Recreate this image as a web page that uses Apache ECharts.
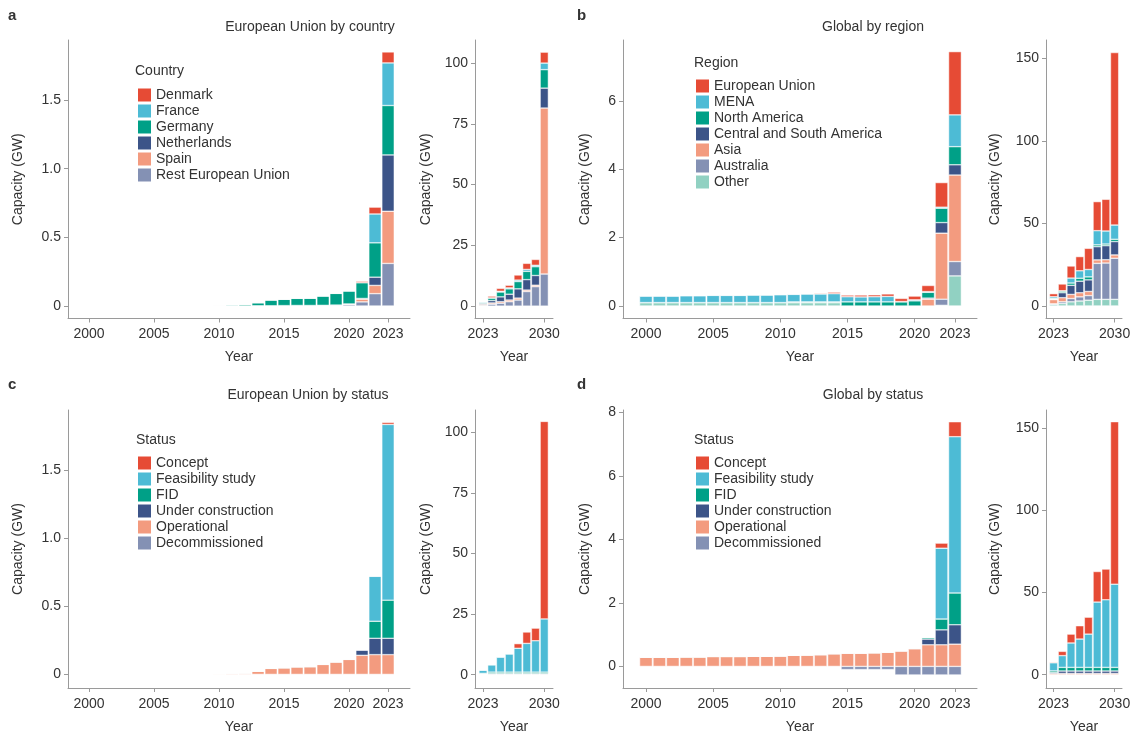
<!DOCTYPE html>
<html>
<head>
<meta charset="utf-8">
<title>Capacity by country, region and status</title>
<script src="https://cdn.jsdelivr.net/npm/echarts@6/dist/echarts.min.js"></script>
<style>
    html, body { margin: 0; padding: 0; background: #fff; }
    #capacityChart { width: 1134px; height: 735px; }
</style>
</head>
<body>
<div id="capacityChart"></div>
<script>
// years
var yearsHist = [2000, 2001, 2002, 2003, 2004, 2005, 2006, 2007, 2008, 2009, 2010, 2011,
                 2012, 2013, 2014, 2015, 2016, 2017, 2018, 2019, 2020, 2021, 2022, 2023];
var yearsProj = [2023, 2024, 2025, 2026, 2027, 2028, 2029, 2030];

var histTicks = [2000, 2005, 2010, 2015, 2020, 2023];
var projTicks = [2023, 2030];
var euTicks = [0, 0.5, 1, 1.5];
var euProjTicks = [0, 25, 50, 75, 100];
var globalTicks = [0, 2, 4, 6];
var globalStatusTicks = [0, 2, 4, 6, 8];
var globalProjTicks = [0, 50, 100, 150];

// legend order (top of legend = top of stack)
var countries = ['Denmark', 'France', 'Germany', 'Netherlands', 'Spain', 'Rest European Union'];
var regions = ['European Union', 'MENA', 'North America', 'Central and South America', 'Asia', 'Australia', 'Other'];
var statuses = ['Concept', 'Feasibility study', 'FID', 'Under construction', 'Operational', 'Decommissioned'];

// a: European Union by country, 2000-2023 (GW)
var euDenmark     = [0,0,0,0,0,0,0,0,0,0,0,0,0,0,0,0,0,0,0,0,0,0.01,0.05,0.08];
var euFrance      = [0,0,0,0,0,0,0,0,0,0,0,0,0,0,0,0,0,0,0,0,0,0,0.21,0.31];
var euGermany     = [0.001,0.001,0.001,0.002,0.002,0.002,0.002,0.002,0.003,0.003,0.004,0.008,0.01,0.022,0.042,0.046,0.052,0.053,0.068,0.085,0.095,0.115,0.25,0.36];
var euNetherlands = [0,0,0,0,0,0,0,0,0,0,0,0,0,0,0,0,0,0,0,0,0,0.005,0.06,0.41];
var euSpain       = [0,0,0,0,0,0,0,0,0,0,0,0,0,0,0,0,0,0,0,0,0.005,0.02,0.06,0.38];
var euRest        = [0,0,0,0,0,0,0,0,0,0,0,0,0,0.002,0.002,0.003,0.004,0.004,0.005,0.007,0.01,0.03,0.09,0.31];

// a inset: 2023-2030
var euDenmarkP     = [0.08, 0.7, 1.2, 1.1, 2.1, 2.5, 2.4, 4.5];
var euFranceP      = [0.31, 0.1, 0.3, 0.4, 0.6, 0.8, 0.6, 2.7];
var euGermanyP     = [0.36, 1.0, 2.0, 2.2, 3.0, 3.4, 3.6, 7.6];
var euNetherlandsP = [0.41, 1.0, 2.0, 2.4, 3.8, 4.3, 4.0, 8.2];
var euSpainP       = [0.38, 0.5, 0.6, 0.7, 0.8, 0.6, 0.6, 68.3];
var euRestP        = [0.31, 0.8, 1.2, 1.8, 2.5, 6.0, 8.0, 13.2];

// b: global by region, 2000-2023
var glEU    = [0.001,0.001,0.001,0.002,0.002,0.002,0.002,0.002,0.003,0.003,0.004,0.008,0.01,0.024,0.044,0.049,0.056,0.057,0.073,0.092,0.11,0.18,0.72,1.85];
var glMENA  = [0.19,0.19,0.19,0.2,0.2,0.21,0.21,0.21,0.22,0.22,0.23,0.22,0.23,0.23,0.24,0.15,0.145,0.15,0.16,0.01,0.03,0.02,0.03,0.93];
var glNA    = [0,0,0,0,0,0,0,0,0,0,0,0.02,0.02,0.02,0.02,0.12,0.12,0.12,0.12,0.12,0.15,0.17,0.42,0.53];
var glCSA   = [0,0,0,0,0,0,0,0,0,0,0,0,0,0,0,0,0,0,0,0,0,0.03,0.31,0.30];
var glAsia  = [0,0,0,0,0,0,0,0,0,0,0,0,0,0,0,0,0,0,0,0,0,0.2,1.93,2.53];
var glAus   = [0,0,0,0,0,0,0,0,0,0,0,0,0,0,0,0,0,0,0,0,0,0,0.18,0.42];
var glOther = [0.1,0.1,0.1,0.1,0.1,0.1,0.1,0.1,0.1,0.1,0.1,0.1,0.1,0.1,0.1,0,0,0,0,0,0,0,0.02,0.88];

// b inset: 2023-2030
var glEUP    = [1.85, 4.1, 7.3, 8.6, 12.8, 17.6, 19.2, 104.5];
var glMENAP  = [0.93, 0.2, 3.0, 4.5, 4.5, 8.6, 7.9, 8.6];
var glNAP    = [0.53, 1.0, 1.4, 1.8, 1.8, 1.1, 1.0, 1.4];
var glCSAP   = [0.30, 3.0, 5.5, 7.0, 7.0, 8.0, 8.5, 8.1];
var glAsiaP  = [2.53, 2.5, 2.5, 2.5, 2.5, 2.1, 2.0, 2.0];
var glAusP   = [0.42, 1.0, 2.0, 2.5, 2.8, 21.8, 22.0, 24.9];
var glOtherP = [0.88, 1.5, 2.5, 3.0, 3.5, 4.0, 4.0, 4.0];

// c: European Union by status, 2000-2023
var euConcept = [0,0,0,0,0,0,0,0,0,0,0,0,0,0,0,0,0,0,0,0,0,0,0,0.015];
var euFeas    = [0,0,0,0,0,0,0,0,0,0,0,0,0,0,0,0,0,0,0,0,0,0,0.33,1.29];
var euFID     = [0,0,0,0,0,0,0,0,0,0,0,0,0,0,0,0,0,0,0,0,0,0,0.125,0.28];
var euUC      = [0,0,0,0,0,0,0,0,0,0,0,0,0,0,0,0,0,0,0,0,0,0.04,0.12,0.12];
var euOper    = [0.001,0.001,0.001,0.002,0.002,0.002,0.002,0.002,0.003,0.003,0.004,0.008,0.01,0.024,0.044,0.049,0.056,0.057,0.073,0.092,0.11,0.14,0.145,0.145];
var euDecom   = [0,0,0,0,0,0,0,0,0,0,0,0,0,0,0,0,0,0,0,0,0,0,0,0];

// c inset: 2023-2030
var euConceptP = [0.015, 0.05, 0.05, 0.05, 1.9, 4.7, 5.2, 81.5];
var euFeasP    = [1.29, 3.0, 6.2, 7.5, 9.85, 11.85, 12.95, 21.95];
var euFIDP     = [0.28, 0.6, 0.6, 0.6, 0.6, 0.6, 0.6, 0.6];
var euUCP      = [0.12, 0.3, 0.3, 0.3, 0.3, 0.3, 0.3, 0.3];
var euOperP    = [0.145, 0.15, 0.15, 0.15, 0.15, 0.15, 0.15, 0.15];
var euDecomP   = [0, 0, 0, 0, 0, 0, 0, 0];

// d: global by status, 2000-2023
var glConcept = [0,0,0,0,0,0,0,0,0,0,0,0,0,0,0,0,0,0,0,0,0,0,0.16,0.47];
var glFeas    = [0,0,0,0,0,0,0,0,0,0,0,0,0,0,0,0,0,0,0,0,0,0,2.23,4.92];
var glFID     = [0,0,0,0,0,0,0,0,0,0,0,0,0,0,0,0,0,0,0,0,0,0.05,0.34,1.0];
var glUC      = [0,0,0,0,0,0,0,0,0,0,0,0,0,0,0,0,0,0,0,0,0,0.18,0.47,0.61];
var glOper    = [0.29,0.29,0.29,0.30,0.30,0.31,0.31,0.31,0.32,0.32,0.33,0.35,0.36,0.37,0.40,0.42,0.42,0.43,0.45,0.49,0.56,0.68,0.68,0.70];
var glDecom   = [0,0,0,0,0,0,0,0,0,0,0,0,0,0,0,-0.1,-0.1,-0.1,-0.1,-0.27,-0.27,-0.27,-0.27,-0.27];

// d inset: 2023-2030
var glConceptP = [0.47, 2.6, 5.4, 8.1, 10.3, 18.6, 18.7, 98.9];
var glFeasP    = [4.92, 7.15, 14.85, 17.25, 20.25, 39.75, 41.15, 50.65];
var glFIDP     = [1.0, 2.2, 2.2, 2.2, 2.2, 2.2, 2.2, 2.2];
var glUCP      = [0.61, 1.5, 1.5, 1.5, 1.5, 1.5, 1.5, 1.5];
var glOperP    = [0.70, 0.75, 0.75, 0.75, 0.75, 0.75, 0.75, 0.75];
var glDecomP   = [-0.27, -0.27, -0.27, -0.27, -0.27, -0.27, -0.27, -0.27];

var FONT = '"Liberation Sans", Arial, sans-serif';
var TEXT = '#333';
var AXIS = '#9a9a9a';

var countryColors = ['#E64B35', '#4DBBD5', '#00A087', '#3C5488', '#F39B7F', '#8491B4'];
var regionColors = ['#E64B35', '#4DBBD5', '#00A087', '#3C5488', '#F39B7F', '#8491B4', '#91D1C2'];
var statusColors = ['#E64B35', '#4DBBD5', '#00A087', '#3C5488', '#F39B7F', '#8491B4'];

// one entry per plot: grid box, axis ranges, ticks, stacked values (legend order)
var panels = [
    {box: {left: 68, top: 40, width: 342, height: 278.5}, x: [1998.38, 2024.69], y: [-0.091, 1.937],
     years: yearsHist, xTicks: histTicks, yTicks: euTicks, dec: 1, gap: 43, bar: 12.4,
     names: countries, colors: countryColors,
     values: [euDenmark, euFrance, euGermany, euNetherlands, euSpain, euRest]},
    {box: {left: 475, top: 40, width: 78, height: 278.5}, x: [2022.08, 2031.0], y: [-5.1, 109.5],
     years: yearsProj, xTicks: projTicks, yTicks: euProjTicks, dec: 0, gap: 42, bar: 8.2,
     names: countries, colors: countryColors,
     values: [euDenmarkP, euFranceP, euGermanyP, euNetherlandsP, euSpainP, euRestP]},
    {box: {left: 623, top: 40, width: 354, height: 278.5}, x: [1998.29, 2024.64], y: [-0.366, 7.78],
     years: yearsHist, xTicks: histTicks, yTicks: globalTicks, dec: 0, gap: 31, bar: 12.8,
     names: regions, colors: regionColors,
     values: [glEU, glMENA, glNA, glCSA, glAsia, glAus, glOther]},
    {box: {left: 1046, top: 40, width: 76, height: 278.5}, x: [2022.13, 2030.85], y: [-7.6, 161.1],
     years: yearsProj, xTicks: projTicks, yTicks: globalProjTicks, dec: 0, gap: 44, bar: 8.2,
     names: regions, colors: regionColors,
     values: [glEUP, glMENAP, glNAP, glCSAP, glAsiaP, glAusP, glOtherP]},
    {box: {left: 68, top: 410, width: 342, height: 278}, x: [1998.38, 2024.69], y: [-0.1, 1.941],
     years: yearsHist, xTicks: histTicks, yTicks: euTicks, dec: 1, gap: 43, bar: 12.4,
     names: statuses, colors: statusColors,
     values: [euConcept, euFeas, euFID, euUC, euOper, euDecom]},
    {box: {left: 475, top: 410, width: 78, height: 278}, x: [2022.08, 2031.0], y: [-5.5, 109.2],
     years: yearsProj, xTicks: projTicks, yTicks: euProjTicks, dec: 0, gap: 42, bar: 8.2,
     names: statuses, colors: statusColors,
     values: [euConceptP, euFeasP, euFIDP, euUCP, euOperP, euDecomP]},
    {box: {left: 623, top: 410, width: 354, height: 278}, x: [1998.29, 2024.64], y: [-0.68, 8.07],
     years: yearsHist, xTicks: histTicks, yTicks: globalStatusTicks, dec: 0, gap: 31, bar: 12.8,
     names: statuses, colors: statusColors,
     values: [glConcept, glFeas, glFID, glUC, glOper, glDecom]},
    {box: {left: 1046, top: 410, width: 76, height: 278}, x: [2022.13, 2030.85], y: [-8.1, 161.1],
     years: yearsProj, xTicks: projTicks, yTicks: globalProjTicks, dec: 0, gap: 44, bar: 8.2,
     names: statuses, colors: statusColors,
     values: [glConceptP, glFeasP, glFIDP, glUCP, glOperP, glDecomP]}
];

var grids = [], xAxes = [], yAxes = [], series = [];

panels.forEach(function (p, i) {
    grids.push(p.box);
    xAxes.push({
        type: 'value', gridIndex: i, min: p.x[0], max: p.x[1],
        name: 'Year', nameLocation: 'middle', nameGap: 32,
        nameTextStyle: {fontSize: 14, color: TEXT, fontFamily: FONT},
        axisLine: {show: true, onZero: false, lineStyle: {color: AXIS, width: 1}},
        axisTick: {show: true, length: 4, customValues: p.xTicks, lineStyle: {color: AXIS}},
        axisLabel: {customValues: p.xTicks, margin: 9, fontSize: 14, color: TEXT, fontFamily: FONT,
                    formatter: function (v) { return String(v); }},
        splitLine: {show: false}
    });
    yAxes.push({
        type: 'value', gridIndex: i, min: p.y[0], max: p.y[1],
        name: 'Capacity (GW)', nameLocation: 'middle', nameGap: p.gap, nameRotate: 90,
        nameTextStyle: {fontSize: 14, color: TEXT, fontFamily: FONT},
        axisLine: {show: true, onZero: false, lineStyle: {color: AXIS, width: 1}},
        axisTick: {show: true, length: 4, customValues: p.yTicks, lineStyle: {color: AXIS}},
        axisLabel: {customValues: p.yTicks, margin: 7, fontSize: 14, color: TEXT, fontFamily: FONT,
                    formatter: function (v) { return v === 0 ? '0' : v.toFixed(p.dec); }},
        splitLine: {show: false}
    });
    // first series is drawn at the bottom, so go through the legend backwards.
    // value goes first in each pair so that the stack is made on y, not on the year
    for (var k = p.names.length - 1; k >= 0; k--) {
        var vals = p.values[k];
        series.push({
            name: p.names[k], type: 'bar', xAxisIndex: i, yAxisIndex: i,
            stack: 'panel' + i, barWidth: p.bar,
            encode: {x: 1, y: 0},
            itemStyle: {color: p.colors[k], borderColor: '#fff', borderWidth: 0.5},
            emphasis: {disabled: true},
            data: p.years.map(function (yr, j) { return [vals[j], yr]; })
        });
    }
});

function legendAt(names, left, top) {
    return {
        data: names, orient: 'vertical', left: left, top: top, padding: 0,
        itemWidth: 13, itemHeight: 13, itemGap: 2, icon: 'rect', selectedMode: false,
        itemStyle: {borderWidth: 0},
        textStyle: {fontSize: 14, color: TEXT, fontFamily: FONT}
    };
}

function label(text, x, y, opts) {
    opts = opts || {};
    return {
        type: 'text', x: x, y: y, silent: true,
        style: {text: text, fill: TEXT, align: opts.align || 'left', verticalAlign: 'middle',
                font: (opts.bold ? 'bold ' : '') + (opts.size || 14) + 'px ' + FONT}
    };
}

var chart = echarts.init(document.getElementById('capacityChart'));
chart.setOption({
    animation: false,
    backgroundColor: '#fff',
    grid: grids,
    xAxis: xAxes,
    yAxis: yAxes,
    series: series,
    legend: [
        legendAt(countries, 138, 88),
        legendAt(regions, 696, 79),
        legendAt(statuses, 138, 456),
        legendAt(statuses, 696, 456)
    ],
    graphic: [
        label('a', 8, 16, {bold: true, size: 15}),
        label('b', 577, 16, {bold: true, size: 15}),
        label('c', 8, 385, {bold: true, size: 15}),
        label('d', 577, 385, {bold: true, size: 15}),
        label('European Union by country', 310, 27, {align: 'center'}),
        label('Global by region', 873, 27, {align: 'center'}),
        label('European Union by status', 308, 395, {align: 'center'}),
        label('Global by status', 873, 395, {align: 'center'}),
        label('Country', 135, 71),
        label('Region', 694, 63),
        label('Status', 136, 440),
        label('Status', 694, 440)
    ]
});
</script>
</body>
</html>
